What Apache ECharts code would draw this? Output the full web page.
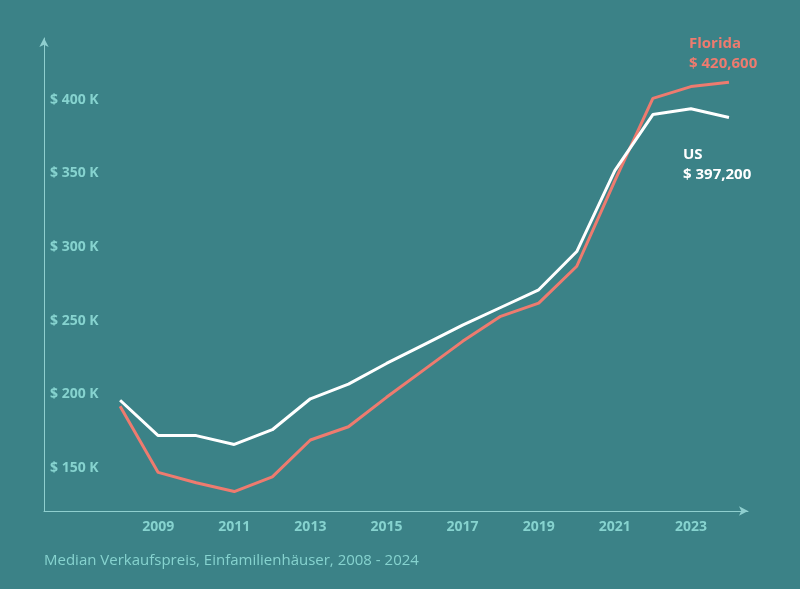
<!DOCTYPE html>
<html><head><meta charset="utf-8">
<script src="https://cdn.jsdelivr.net/npm/echarts@6/dist/echarts.min.js"></script>
<style>html,body{margin:0;background:#3b8287}#c{width:800px;height:589px}</style>
</head><body><div id="c"></div>
<script>
const years = [2008,2009,2010,2011,2012,2013,2014,2015,2016,2017,2018,2019,2020,2021,2022,2023,2024];
const usValues = [196,172,172,166,176,197,207,221,234,247,259,271,297,352,390,394,388];
const floridaValues = [192,147,140,134,144,169,178,198,217,236,253,262,287,345,401,409,412];
const yTicks = [150,200,250,300,350,400];

const chart = echarts.init(document.getElementById('c'));
const axisColor = '#8fcfcf';
const labelColor = '#86d3cf';
chart.setOption({
  backgroundColor: '#3b8287',
  grid: { left: 44, right: 52, top: 38, bottom: 78 },
  xAxis: {
    type: 'value', min: 2006, max: 2024.5, interval: 1,
    axisLine: { lineStyle: { color: axisColor }, symbol: ['none','arrow'], symbolSize: [7,9] },
    axisTick: { show: false }, splitLine: { show: false },
    axisLabel: {
      color: labelColor, fontWeight: 'bold', fontSize: 14, margin: 9, fontFamily: 'Open Sans',
      formatter: v => (v % 2 === 1 && v >= 2009 && v <= 2023) ? String(v) : ''
    }
  },
  yAxis: {
    type: 'value', min: 120.8, max: 442,
    axisLine: { show: true, lineStyle: { color: axisColor }, symbol: ['none','arrow'], symbolSize: [7,9] },
    axisTick: { show: false }, splitLine: { show: false },
    axisLabel: {
      inside: true, customValues: yTicks, color: labelColor, fontWeight: 'bold', fontSize: 14,
      fontFamily: 'Open Sans', margin: 6, formatter: v => '$ ' + v + ' K'
    }
  },
  series: [
    { type: 'line', data: years.map((y,i)=>[y,floridaValues[i]]), showSymbol: false,
      lineStyle: { color: '#ee7b6f', width: 3 } },
    { type: 'line', data: years.map((y,i)=>[y,usValues[i]]), showSymbol: false,
      lineStyle: { color: '#ffffff', width: 3 } }
  ],
  graphic: [
    { type: 'text', left: 689, top: 34, style: { text: 'Florida\n$ 420,600', fill: '#ee7b6f',
      font: 'bold 15px "Open Sans"', lineHeight: 20 } },
    { type: 'text', left: 683, top: 145, style: { text: 'US\n$ 397,200', fill: '#ffffff',
      font: 'bold 15px "Open Sans"', lineHeight: 20 } },
    { type: 'text', left: 44, top: 553, style: { text: 'Median Verkaufspreis, Einfamilienhäuser, 2008 - 2024',
      fill: '#86d3cf', font: '15px "Open Sans"' } }
  ]
});
</script></body></html>
